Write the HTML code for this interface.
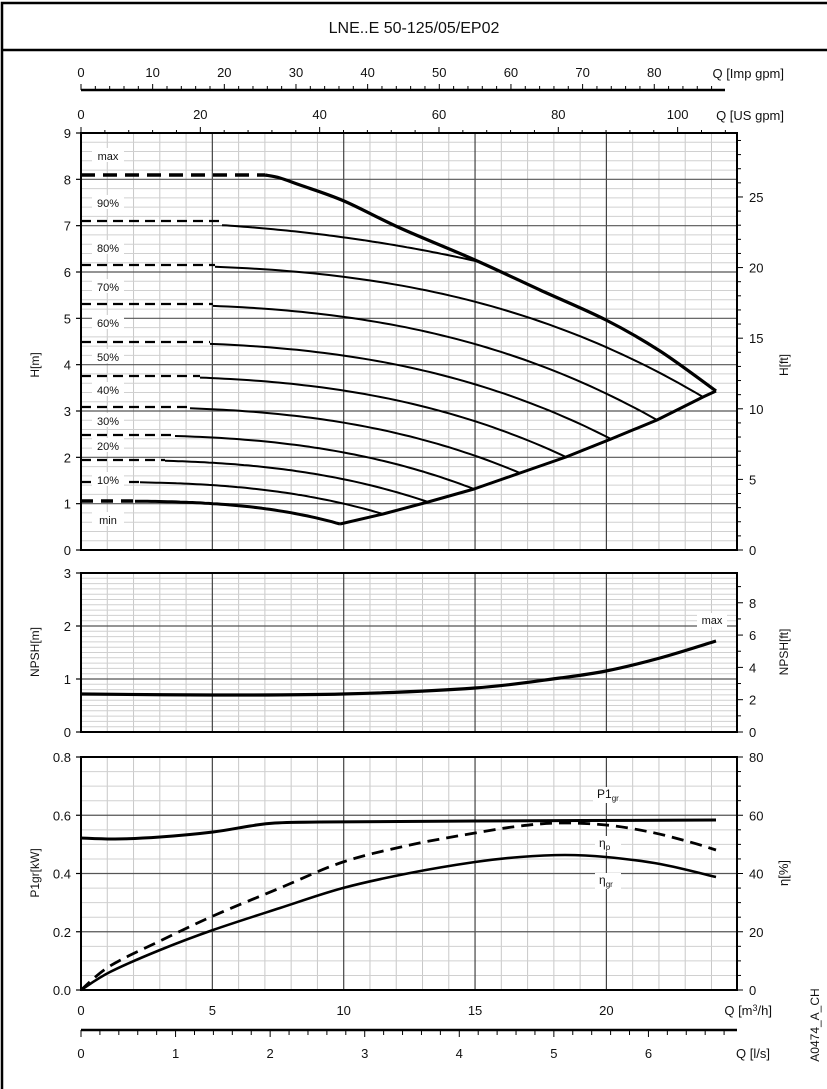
<!DOCTYPE html>
<html><head><meta charset="utf-8"><style>
html,body{margin:0;padding:0;background:#fff;}
svg{display:block;}
text{font-family:"Liberation Sans",sans-serif;fill:#111;}
</style></head><body>
<svg id="s" width="827" height="1089" xmlns="http://www.w3.org/2000/svg">
<rect x="2" y="3" width="830" height="1095" fill="none" stroke="#000" stroke-width="2.5"/>
<line x1="2" y1="50" x2="827" y2="50" stroke="#000" stroke-width="2.5"/>
<text x="414" y="33" font-size="16" text-anchor="middle">LNE..E 50-125/05/EP02</text>
<g id="g"></g>
</svg>
<script>
const NS="http://www.w3.org/2000/svg";const g=document.getElementById('g');
function el(t,a,txt){const e=document.createElementNS(NS,t);for(const k in a)e.setAttribute(k,a[k]);if(txt!==undefined)e.textContent=txt;g.appendChild(e);return e;}
const X0=81,XS=26.27;const X=q=>X0+q*XS;const XR=737;
function ln(x1,y1,x2,y2,c,w,d){const a={x1,y1,x2,y2,stroke:c,'stroke-width':w};if(d)a['stroke-dasharray']=d;el('line',a);}
function tx(x,y,s,o){const a=Object.assign({x,y,'font-size':12},o||{});return el('text',a,s);}
const P=[{top:133,bot:550,max:9,minor:0.2},{top:573,bot:732,max:3,minor:0.1},{top:757,bot:990,max:0.8,minor:0.05}];
P.forEach((p,i)=>{
 const ys=v=>p.bot-(v/p.max)*(p.bot-p.top);
 for(let q=1;q<25;q++){if(q%5)ln(X(q),p.top,X(q),p.bot,'#c8c8c8',1);}
 const n=Math.round(p.max/p.minor);
 for(let k=1;k<n;k++){const v=k*p.minor;const maj=i==2?(k%4==0):(Math.abs(v-Math.round(v))<1e-6);if(!maj)ln(X0,ys(v),XR,ys(v),'#d0d0d0',1);}
 for(let q=5;q<25;q+=5)ln(X(q),p.top,X(q),p.bot,'#444',1.2);
 const step=i==2?0.2:1;
 for(let v=step;v<p.max-1e-6;v+=step)ln(X0,ys(v),XR,ys(v),'#555',1.2);
 el('rect',{x:X0,y:p.top,width:XR-X0,height:p.bot-p.top,fill:'none',stroke:'#000','stroke-width':2});
 for(let v=0;v<=p.max+1e-6;v+=step){ln(X0-5,ys(v),X0,ys(v),'#000',1.2);tx(X0-10,ys(v)+5,i==2?v.toFixed(1):String(Math.round(v)),{'text-anchor':'end','font-size':13});}
});
function rot(x,y,s,fs){el('text',{x,y,'font-size':fs||12,'text-anchor':'middle',transform:`rotate(-90 ${x} ${y})`},s);}
rot(39,365,'H[m]');rot(39,652,'NPSH[m]');rot(39,873,'P1gr[kW]');
rot(788,365,'H[ft]');rot(788,652,'NPSH[ft]');rot(788,873,'η[%]',13);
rot(819,1025,'A0474_A_CH');
for(let f=0;f<=29;f++){const y=550-f*0.3048*46.33;if(y<133)break;ln(XR,y,XR+(f%5?4:6),y,'#000',1);if(f%5==0)tx(XR+12,y+5,String(f),{'font-size':13});}
for(let f=0;f<=9;f++){const y=732-f*0.3048*53;ln(XR,y,XR+(f%2?4:6),y,'#000',1);if(f%2==0)tx(XR+12,y+5,String(f),{'font-size':13});}
for(let e=0;e<=80;e+=5){const y=990-e/80*233;ln(XR,y,XR+(e%20?4:6),y,'#000',1);if(e%20==0)tx(XR+12,y+5,String(e),{'font-size':13});}
ln(X0,90,XR-12,90,'#000',2.5);
for(let v=0;v<=90;v+=2){const x=X0+v/3.666*XS;if(x>XR-12)break;ln(x,90,x,v%10?86:84,'#000',1);if(v%10==0&&v<=80)tx(x,77,String(v),{'text-anchor':'middle','font-size':13});}
tx(784,78,'Q [Imp gpm]',{'text-anchor':'end','font-size':13});
for(let v=0;v<=110;v+=4){const x=X0+v/4.403*XS;if(x>XR)break;ln(x,133,x,v%20?130:127,'#000',1);if(v%20==0)tx(x,119,String(v),{'text-anchor':'middle','font-size':13});}
tx(784,120,'Q [US gpm]',{'text-anchor':'end','font-size':13});
for(let q=0;q<=20;q+=5)tx(X(q),1015,String(q),{'text-anchor':'middle','font-size':13});
el('text',{x:772,y:1015,'font-size':13,'text-anchor':'end'}).innerHTML='Q [m<tspan font-size="9" dy="-4">3</tspan><tspan dy="4">/h]</tspan>';
ln(X0,1030,XR,1030,'#000',2.5);
for(let v=0;v<=6.9;v+=0.2){const x=X0+v*3.6*XS;if(x>XR+1)break;const m=Math.abs(v-Math.round(v))<1e-6;ln(x,1030,x,m?1037:1035,'#000',1);if(m)tx(x,1058,String(Math.round(v)),{'text-anchor':'middle','font-size':13});}
tx(770,1058,'Q [l/s]',{'text-anchor':'end','font-size':13});
function path(pts,w,d,c){let s='M'+pts.map(p=>p[0].toFixed(1)+','+p[1].toFixed(1)).join(' L');const a={d:s,fill:'none',stroke:c||'#000','stroke-width':w,'stroke-linejoin':'round','stroke-linecap':'butt'};if(d)a['stroke-dasharray']=d;el('path',a);}
function smooth(pts,w,d){
 let s='M'+pts[0][0]+','+pts[0][1];
 for(let i=0;i<pts.length-1;i++){const p0=pts[Math.max(0,i-1)],p1=pts[i],p2=pts[i+1],p3=pts[Math.min(pts.length-1,i+2)];
 s+=` C${p1[0]+(p2[0]-p0[0])/6},${p1[1]+(p2[1]-p0[1])/6} ${p2[0]-(p3[0]-p1[0])/6},${p2[1]-(p3[1]-p1[1])/6} ${p2[0]},${p2[1]}`;}
 const a={d:s,fill:'none',stroke:'#000','stroke-width':w};if(d)a['stroke-dasharray']=d;el('path',a);}
const labs=[['max',157],['90%',204],['80%',249],['70%',288],['60%',324],['50%',358],['40%',391],['30%',422],['20%',447],['10%',481],['min',521]];
ln(X0,175,265,175,'#000',3.5,'14,8');
smooth([[265,175],[280,178],[300,185],[344,201],[400,228],[475,260],[540,290],[606,320],[660,351],[716,391]],3.2);
path([[340,524],[383,514],[428,502],[474,489],[520,473],[566,457],[611,439],[657,420],[703,397],[716,391]],3);
const C=[[221,480,262,222],[265,703,397,215],[304,657,420,213],[342,611,439,210],[376,566,457,200],[407,520,473,190],[435,474,489,175],[460,428,502,165],[482,383,514,140]];
C.forEach((c,i)=>{const [y0,xe,ye,xd]=c;const pts=[];const p=i==0?2.2:2.8;
 for(let k=0;k<=60;k++){const x=xd+(xe-xd)*k/60;const t=(x-X0)/(xe-X0);pts.push([x,y0+(ye-y0)*Math.pow(t,p)]);}
 ln(X0,y0,xd,y0,'#000',2.2,'10,6');path(pts,2);
 });
ln(X0,501,135,501,'#000',3.5,'12,8');
{const pts=[];for(let k=0;k<=50;k++){const x=135+(340-135)*k/50;const t=(x-X0)/(340-X0);pts.push([x,501+23*Math.pow(t,3.2)]);}path(pts,3);}
labs.forEach(l=>{el('rect',{x:92,y:l[1]-9,width:32,height:14,fill:'#fff'});tx(108,l[1]+3,l[0],{'text-anchor':'middle','font-size':11});});
smooth([[X0,694],[213,695],[343,694],[475,688],[560,678],[606,671],[660,658],[716,641]],3.2);
el('rect',{x:697,y:613,width:30,height:14,fill:'#fff'});tx(712,624,'max',{'text-anchor':'middle','font-size':11});
smooth([[X0,838],[115,839],[160,837],[213,832],[250,826],[275,823],[320,822],[475,821],[716,820]],3);
smooth([[X0,990],[110,972],[160,950],[213,930],[280,908],[343,888],[410,873],[475,862],[520,857],[565,855],[606,857],[660,864],[716,877]],2.6);
smooth([[X0,990],[110,966],[160,941],[213,916],[280,888],[343,862],[410,845],[475,833],[520,826],[560,823],[606,825],[650,832],[690,842],[716,850]],2.8,'12,7');
[['P1',605,798,'gr'],['η',607,847,'p'],['η',607,884,'gr']].forEach(l=>{el('rect',{x:l[1]-12,y:l[2]-11,width:26,height:16,fill:'#fff'});const t=el('text',{x:l[1]-8,y:l[2],'font-size':12});t.innerHTML=l[0]+'<tspan font-size="8" dy="3">'+l[3]+'</tspan>';});
</script>
</body></html>
